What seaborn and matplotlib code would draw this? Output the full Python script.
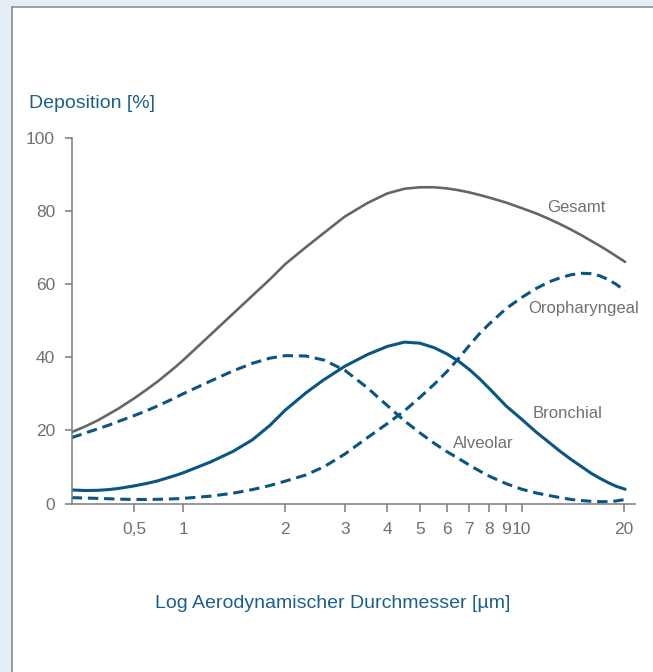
import numpy as np
import pandas as pd
import matplotlib
matplotlib.use("Agg")
import matplotlib.pyplot as plt
from matplotlib.patches import Rectangle
from matplotlib.lines import Line2D
import seaborn as sns

# ---------------- data ----------------
diameter_um = [0.208, 0.25, 0.3, 0.35, 0.4, 0.5, 0.6, 0.7, 0.8, 0.9, 1, 1.2, 1.4, 1.6,
               1.8, 2, 2.3, 2.6, 3, 3.5, 4, 4.5, 5, 5.5, 6, 6.5, 7, 7.5, 8, 9, 10,
               11, 12, 13, 14, 15, 16, 17, 18, 19, 20.2]
gesamt = [19.5, 21.0, 22.7, 24.4, 25.9, 28.7, 31.2, 33.4, 35.5, 37.4, 39.2, 46.0, 51.8,
          56.8, 61.2, 65.4, 70.0, 73.9, 78.4, 82.1, 84.7, 86.0, 86.4, 86.4, 86.1, 85.6,
          85.0, 84.3, 83.6, 82.2, 80.7, 79.3, 77.8, 76.3, 74.8, 73.3, 71.8, 70.4, 69.0,
          67.6, 66.0]
oropharyngeal = [1.6, 1.5, 1.4, 1.3, 1.2, 1.1, 1.1, 1.15, 1.2, 1.3, 1.4, 2.0, 2.8, 3.8,
                 4.9, 6.1, 7.8, 10.0, 13.5, 18.0, 21.8, 25.3, 29.0, 32.5, 36.0, 39.6,
                 43.2, 46.4, 49.0, 53.3, 56.3, 58.7, 60.5, 61.7, 62.5, 62.9, 62.8, 62.2,
                 61.2, 59.9, 58.1]
alveolar = [18.0, 19.2, 20.4, 21.4, 22.4, 24.0, 25.4, 26.7, 27.9, 29.0, 30.0, 33.4, 36.2,
            38.3, 39.7, 40.4, 40.3, 39.2, 36.4, 31.6, 26.8, 22.6, 19.3, 16.5, 14.2, 12.3,
            10.5, 8.9, 7.5, 5.4, 3.9, 2.9, 2.2, 1.6, 1.1, 0.8, 0.6, 0.5, 0.5, 0.7, 1.1]
bronchial = [3.7, 3.55, 3.6, 3.8, 4.1, 4.8, 5.5, 6.2, 7.0, 7.7, 8.4, 11.3, 14.2, 17.4,
             21.3, 25.5, 30.2, 33.8, 37.5, 40.7, 42.9, 44.1, 43.8, 42.6, 40.9, 38.9,
             36.6, 34.1, 31.5, 26.6, 23.0, 19.6, 16.8, 14.2, 12.0, 10.1, 8.3, 6.9, 5.7,
             4.7, 3.9]

x_ticks = [0.5, 1, 2, 3, 4, 5, 6, 7, 8, 9, 10, 20]
x_tick_labels = ["0,5", "1", "2", "3", "4", "5", "6", "7", "8", "9", "10", "20"]
y_ticks = [0, 20, 40, 60, 80, 100]
y_tick_labels = ["0", "20", "40", "60", "80", "100"]

labels = {"Gesamt": (11.9, 79.6), "Oropharyngeal": (10.44, 52.0),
          "Bronchial": (10.8, 23.3), "Alveolar": (6.27, 15.1)}

df = pd.DataFrame({"d": diameter_um, "Gesamt": gesamt, "Oropharyngeal": oropharyngeal,
                   "Alveolar": alveolar, "Bronchial": bronchial})

# ---------------- style ----------------
sns.set_style("white")
plt.rcParams["font.family"] = ["Liberation Sans", "DejaVu Sans"]

BLUE = "#0b5584"
GREY = "#666666"
TEXT_GREY = "#707070"
LABEL_BLUE = "#1d5f8c"
AXIS_GREY = "#7a7a7a"

fig = plt.figure(figsize=(6.53, 6.72), dpi=100)
fig.patch.set_facecolor("#e3eef7")
W, H = 653, 672
fig.add_artist(Rectangle((12.5 / W, 0), 1, (H - 6.5) / H, transform=fig.transFigure,
                         facecolor="white", edgecolor="none", zorder=-10))
fig.add_artist(Line2D([12.5 / W, 12.5 / W], [0, (H - 6.5) / H], transform=fig.transFigure,
                      color="#8a8f94", lw=1.2))
fig.add_artist(Line2D([12.5 / W, 1], [(H - 6.5) / H, (H - 6.5) / H], transform=fig.transFigure,
                      color="#8a8f94", lw=1.2))

ax = fig.add_axes([71.7 / W, (H - 503.5) / H, (635 - 71.7) / W, (503.5 - 137.5) / H])
ax.set_facecolor("none")

K = 0.4836
def fwd(x):
    x = np.clip(np.asarray(x, dtype=float), 1e-9, None)
    lx = np.log10(x)
    return np.where(lx >= 0, lx, K * lx)

def inv(p):
    p = np.asarray(p, dtype=float)
    return np.where(p >= 0, 10.0 ** p, 10.0 ** (p / K))

ax.set_xscale("function", functions=(fwd, inv))

dash = (0, (3.4, 1.9))
sns.lineplot(data=df, x="d", y="Gesamt", ax=ax, color=GREY, linewidth=1.9, sort=False)
sns.lineplot(data=df, x="d", y="Oropharyngeal", ax=ax, color=BLUE, linewidth=2.2,
             linestyle=dash, sort=False)
sns.lineplot(data=df, x="d", y="Alveolar", ax=ax, color=BLUE, linewidth=2.2,
             linestyle=dash, sort=False)
sns.lineplot(data=df, x="d", y="Bronchial", ax=ax, color=BLUE, linewidth=2.2, sort=False)

for name, (lx, ly) in labels.items():
    ax.text(lx, ly, name, color=TEXT_GREY, fontsize=12, ha="left", va="baseline")

ax.set_xlim(0.208, 21.6)
ax.set_ylim(0, 100)
ax.set_xticks(x_ticks)
ax.set_xticklabels(x_tick_labels)
ax.xaxis.set_minor_locator(matplotlib.ticker.NullLocator())
ax.set_yticks(y_ticks)
ax.set_yticklabels(y_tick_labels)

for s in ["top", "right"]:
    ax.spines[s].set_visible(False)
for s in ["left", "bottom"]:
    ax.spines[s].set_color(AXIS_GREY)
    ax.spines[s].set_linewidth(1.1)
ax.tick_params(axis="both", which="major", direction="out", color=AXIS_GREY, width=1.1,
               labelcolor=TEXT_GREY, labelsize=12.5, pad=7)
ax.tick_params(axis="x", length=6, bottom=True)
ax.tick_params(axis="y", length=5, left=True)

ax.set_ylabel("Deposition [%]", rotation=0, ha="left", va="baseline",
              color=LABEL_BLUE, fontsize=14)
ax.yaxis.set_label_coords((29.3 - 71.7) / (635 - 71.7), (503.5 - 108.3) / 366.0)
ax.set_xlabel("Log Aerodynamischer Durchmesser [µm]", ha="center", va="baseline",
              color=LABEL_BLUE, fontsize=14)
ax.xaxis.set_label_coords((333 - 71.7) / (635 - 71.7), (503.5 - 608.3) / 366.0)

fig.savefig("out.png", dpi=100, facecolor=fig.get_facecolor())
